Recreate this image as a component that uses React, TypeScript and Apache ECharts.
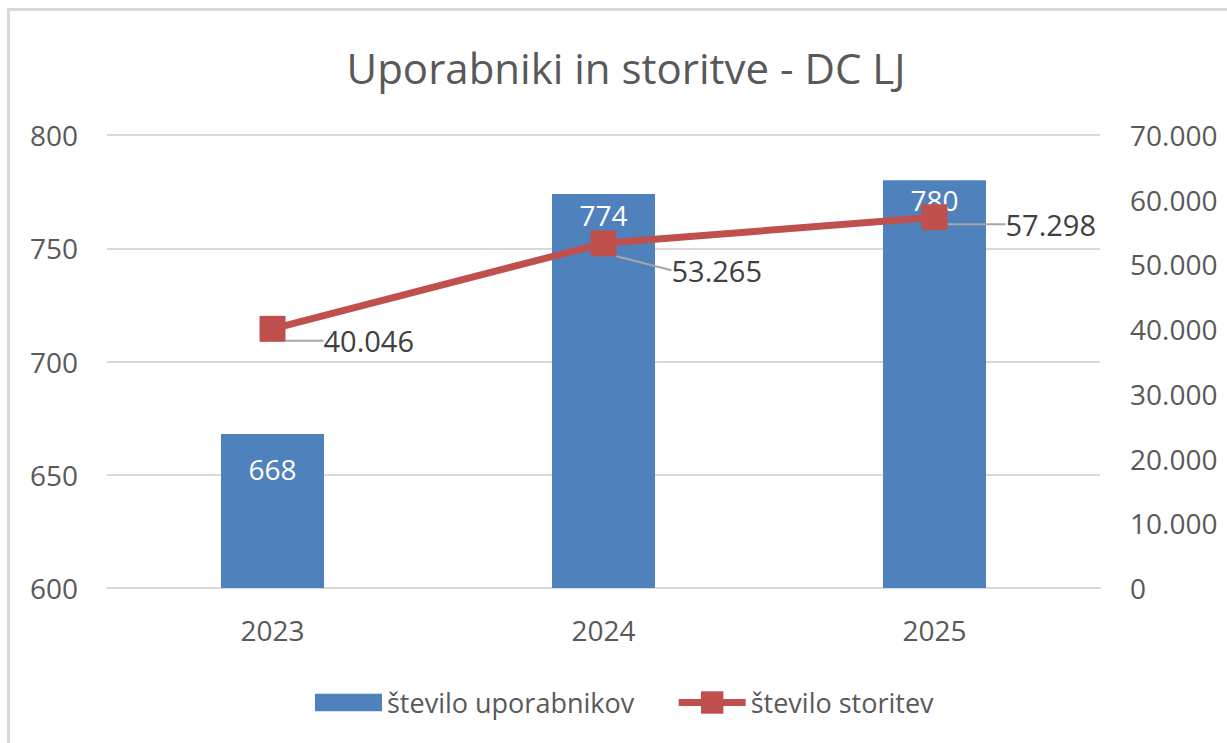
import React, { useEffect, useRef } from "react";
import * as echarts from "echarts";

const categories = ["2023", "2024", "2025"];
const userCounts = [668, 774, 780];
const serviceCounts = [40046, 53265, 57298];
const seriesNames = ["število uporabnikov", "število storitev"];
const chartTitle = "Uporabniki in storitve - DC LJ";

const FONT = "'Open Sans', sans-serif";
const TEXT = "#595959";
const BLUE = "#4F81BD";
const RED = "#C0504D";
const GRID = "#D9D9D9";

// label shifts for the line labels (dx, dy)
const lineLabelShift = [
  [33, 12],
  [50, 27],
  [53, 7],
];
// distance of bar labels from bar top
const barLabelDistance = [21, 7, 6];

const fmt = (v: number) =>
  String(Math.round(v)).replace(/\B(?=(\d{3})+(?!\d))/g, ".");

export default function App() {
  const ref = useRef<HTMLDivElement>(null);
  useEffect(() => {
    if (!ref.current) return;
    const chart = echarts.init(ref.current, null, { renderer: "svg" });
    chart.setOption({
      animation: false,
      backgroundColor: "#FFFFFF",
      textStyle: { fontFamily: FONT },
      title: {
        text: chartTitle,
        left: 621,
        textAlign: "center",
        top: 41,
        textStyle: { fontFamily: FONT, fontSize: 42, fontWeight: "normal", color: TEXT },
      },
      graphic: [
        {
          type: "rect",
          shape: { x: 8.5, y: 9.5, width: 1400, height: 900 },
          style: { fill: "none", stroke: GRID, lineWidth: 3 },
          silent: true,
          z: -1,
        },
      ],
      grid: { left: 107, right: 127, top: 135, bottom: 155 },
      legend: {
        left: 310,
        top: 684,
        itemWidth: 67,
        itemHeight: 28,
        itemGap: 41,
        textStyle: { fontFamily: FONT, fontSize: 27, color: TEXT },
        data: [
          { name: seriesNames[0], icon: "path://M0 0H65V17H0Z" },
          { name: seriesNames[1], lineStyle: { width: 7 } },
        ],
      },
      xAxis: {
        type: "category",
        data: categories,
        axisLine: { lineStyle: { color: GRID, width: 2 } },
        axisTick: { show: false },
        axisLabel: { color: TEXT, fontSize: 28, fontFamily: FONT, margin: 28 },
      },
      yAxis: [
        {
          type: "value",
          min: 600,
          max: 800,
          interval: 50,
          axisLine: { show: false },
          axisTick: { show: false },
          splitLine: { lineStyle: { color: GRID, width: 2 } },
          axisLabel: { color: TEXT, fontSize: 28, fontFamily: FONT, margin: 29 },
        },
        {
          type: "value",
          min: 0,
          max: 70000,
          interval: 10000,
          axisLine: { show: false },
          axisTick: { show: false },
          splitLine: { show: false },
          axisLabel: {
            color: TEXT,
            fontSize: 28,
            fontFamily: FONT,
            margin: 30,
            formatter: (v: number) => fmt(v),
          },
        },
      ],
      series: [
        {
          name: seriesNames[0],
          type: "bar",
          data: userCounts.map((v, i) => ({
            value: v,
            label: { distance: barLabelDistance[i] },
          })),
          barWidth: 103,
          itemStyle: { color: BLUE },
          label: {
            show: true,
            position: "insideTop",
            color: "#FFFFFF",
            fontSize: 28,
            fontFamily: FONT,
          },
          z: 2,
        },
        {
          name: seriesNames[1],
          type: "line",
          yAxisIndex: 1,
          data: serviceCounts,
          symbol: "rect",
          symbolSize: 26,
          lineStyle: { color: RED, width: 7 },
          itemStyle: { color: RED },
          label: {
            show: true,
            position: "right",
            distance: 5,
            color: "#404040",
            fontSize: 29,
            fontFamily: FONT,
            formatter: (p: any) => fmt(p.value),
          },
          labelLayout: (p: any) => ({
            dx: lineLabelShift[p.dataIndex][0],
            dy: lineLabelShift[p.dataIndex][1],
          }),
          labelLine: { show: true, lineStyle: { color: "#A6A6A6", width: 2 } },
          z: 3,
        },
      ],
    });
    return () => chart.dispose();
  }, []);
  return (
    <div
      ref={ref}
      style={{ position: "absolute", left: 0, top: 0, width: 1227, height: 743 }}
    />
  );
}
